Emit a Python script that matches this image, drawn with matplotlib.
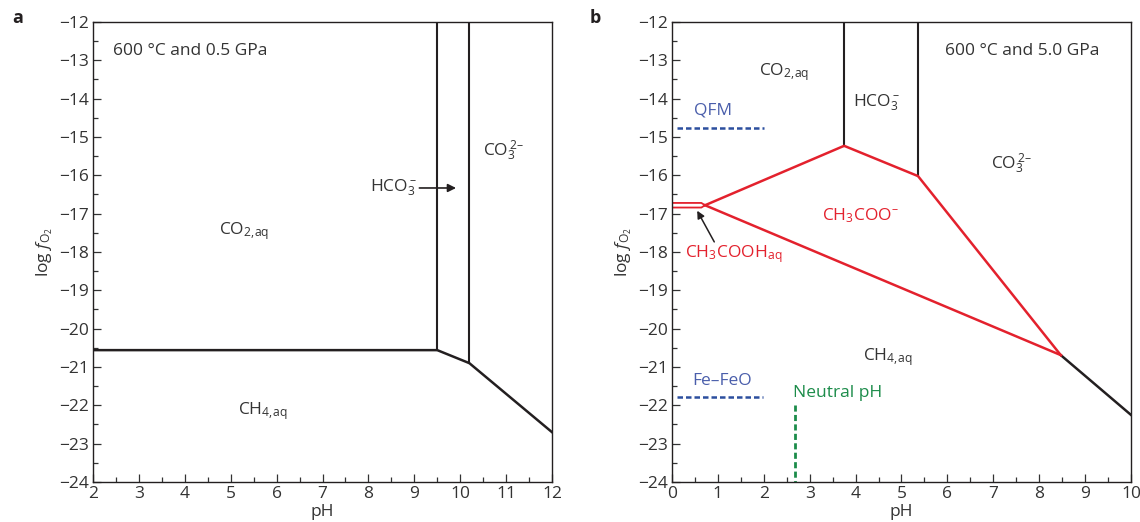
import matplotlib.pyplot as plt
import numpy as np

plt.rcParams['font.family'] = ['Open Sans', 'DejaVu Sans']
plt.rcParams['mathtext.fontset'] = 'custom'
plt.rcParams['mathtext.rm'] = 'Open Sans'
plt.rcParams['mathtext.it'] = 'Open Sans:italic'

BLACK = '#231f20'
RED = '#e3212d'
BLUE = '#2c4f9e'
BLUE_TXT = '#4a5eab'
GREEN = '#1c8c4a'
TXT = '#333333'
DASH = '\u2013'
FS = 12.5

# panel a: 600 C, 0.5 GPa
a_bound_x = [2, 9.5, 10.2, 12]
a_bound_y = [-20.56, -20.56, -20.9, -22.7]
a_hco3_x = 9.5
a_co3_x = 10.2

# panel b: 600 C, 5.0 GPa
b_hco3_x = 3.75
b_hco3_y = -15.23
b_co3_x = 5.36
b_co3_y = -16.02
b_triple_x = 8.47
b_triple_y = -20.69
b_end_y = -22.25
b_acid_x = 0.72
b_acid_top = -16.72
b_acid_bot = -16.84
qfm_x = [0.1, 2.0]
qfm_y = -14.77
fefeo_x = [0.1, 1.98]
fefeo_y = -21.78
neutral_ph = 2.68
neutral_y = [-22.0, -24.0]

co3_lbl = r'CO$_3^{\,2' + DASH + '}$'
hco3_lbl = r'HCO$_3^{\,' + DASH + '}$'
co2_lbl = r'CO$_{2,\!\mathrm{aq}}$'
ch4_lbl = r'CH$_{4,\!\mathrm{aq}}$'


def style_axes(ax, xlim):
    ax.set_xlim(*xlim)
    ax.set_ylim(-24, -12)
    ax.set_xticks(np.arange(xlim[0], xlim[1] + 1, 1))
    ax.set_xticks(np.arange(xlim[0], xlim[1], 0.5), minor=True)
    ax.set_yticks(np.arange(-24, -11, 1))
    ax.set_yticks(np.arange(-24, -12, 0.5), minor=True)
    ax.tick_params(which='both', direction='in', top=False, right=False,
                   labelsize=FS, colors=TXT, width=0.9)
    ax.tick_params(which='major', length=6, pad=3)
    ax.tick_params(which='minor', length=3.5)
    for s in ax.spines.values():
        s.set_linewidth(1.0)
        s.set_color(BLACK)
    ax.set_xlabel('pH', fontsize=FS, color=TXT, labelpad=1)
    ax.set_ylabel(r'log $\mathit{f}_{\mathrm{O_2}}$', fontsize=FS, color=TXT, labelpad=3)


fig = plt.figure(figsize=(11.4, 5.22), dpi=100)
ax1 = fig.add_axes([93 / 1140, 40 / 522, 459 / 1140, 460 / 522])
ax2 = fig.add_axes([672 / 1140, 40 / 522, 459 / 1140, 460 / 522])

# ---- panel a
style_axes(ax1, (2, 12))
ax1.plot(a_bound_x, a_bound_y, color=BLACK, lw=1.8, solid_joinstyle='miter')
ax1.plot([a_hco3_x, a_hco3_x], [a_bound_y[1], -12], color=BLACK, lw=1.5)
ax1.plot([a_co3_x, a_co3_x], [a_bound_y[2], -12], color=BLACK, lw=1.5)
ax1.text(2.43, -12.75, '600 °C and 0.5 GPa', fontsize=FS, color=TXT, va='center')
ax1.text(5.3, -17.45, co2_lbl, fontsize=FS, color=TXT, ha='center', va='center')
ax1.text(5.7, -22.15, ch4_lbl, fontsize=FS, color=TXT, ha='center', va='center')
ax1.text(10.95, -15.35, co3_lbl, fontsize=FS, color=TXT, ha='center', va='center')
ax1.annotate('', xy=(9.97, -16.33), xytext=(9.05, -16.33),
             arrowprops=dict(arrowstyle='-|>', color=BLACK, lw=1.2, mutation_scale=12))
ax1.text(9.05, -16.33, hco3_lbl, fontsize=FS, color=TXT, ha='right', va='center')
fig.text(12 / 1140, 1 - 18 / 522, 'a', fontsize=13, fontweight='bold', color=BLACK, va='center')

# ---- panel b
style_axes(ax2, (0, 10))
ax2.plot([b_hco3_x, b_hco3_x], [b_hco3_y, -12], color=BLACK, lw=1.5)
ax2.plot([b_co3_x, b_co3_x], [b_co3_y, -12], color=BLACK, lw=1.5)
ax2.plot([b_triple_x, 10], [b_triple_y, b_end_y], color=BLACK, lw=1.8)
acid_mid = (b_acid_top + b_acid_bot) / 2
ax2.plot([b_acid_x, b_hco3_x, b_co3_x, b_triple_x], [acid_mid, b_hco3_y, b_co3_y, b_triple_y],
         color=RED, lw=1.8)
ax2.plot([b_acid_x, b_triple_x], [acid_mid, b_triple_y], color=RED, lw=1.8)
ax2.plot([0, b_acid_x - 0.08, b_acid_x, b_acid_x - 0.08, 0],
         [b_acid_top, b_acid_top, acid_mid, b_acid_bot, b_acid_bot], color=RED, lw=1.3)

ax2.plot(qfm_x, [qfm_y, qfm_y], color=BLUE, lw=1.8, ls=(0, (2.2, 1.2)))
ax2.plot(fefeo_x, [fefeo_y, fefeo_y], color=BLUE, lw=1.8, ls=(0, (2.2, 1.2)))
ax2.plot([neutral_ph, neutral_ph], neutral_y, color=GREEN, lw=2.0, ls=(0, (2.2, 1.2)))
ax2.text(0.9, -14.3, 'QFM', fontsize=FS, color=BLUE_TXT, ha='center', va='center')
ax2.text(1.1, -21.37, 'Fe' + DASH + 'FeO', fontsize=FS, color=BLUE_TXT, ha='center', va='center')
ax2.text(3.6, -21.68, 'Neutral pH', fontsize=FS, color=GREEN, ha='center', va='center')

ax2.text(2.45, -13.3, co2_lbl, fontsize=FS, color=TXT, ha='center', va='center')
ax2.text(4.45, -14.1, hco3_lbl, fontsize=FS, color=TXT, ha='center', va='center')
ax2.text(5.95, -12.75, '600 °C and 5.0 GPa', fontsize=FS, color=TXT, va='center')
ax2.text(7.4, -15.7, co3_lbl, fontsize=FS, color=TXT, ha='center', va='center')
ax2.text(4.1, -17.05, r'CH$_3$COO$^{' + DASH + '}$', fontsize=FS, color=RED, ha='center', va='center')
ax2.text(4.7, -20.75, ch4_lbl, fontsize=FS, color=TXT, ha='center', va='center')
ax2.text(0.28, -18.05, r'CH$_3$COOH$_{\mathrm{aq}}$', fontsize=FS, color=RED, va='center')
ax2.annotate('', xy=(0.52, -16.86), xytext=(0.95, -17.8),
             arrowprops=dict(arrowstyle='-|>', color=BLACK, lw=1.1, mutation_scale=11))
fig.text(590 / 1140, 1 - 18 / 522, 'b', fontsize=13, fontweight='bold', color=BLACK, va='center')

fig.savefig('out.png', dpi=100)
